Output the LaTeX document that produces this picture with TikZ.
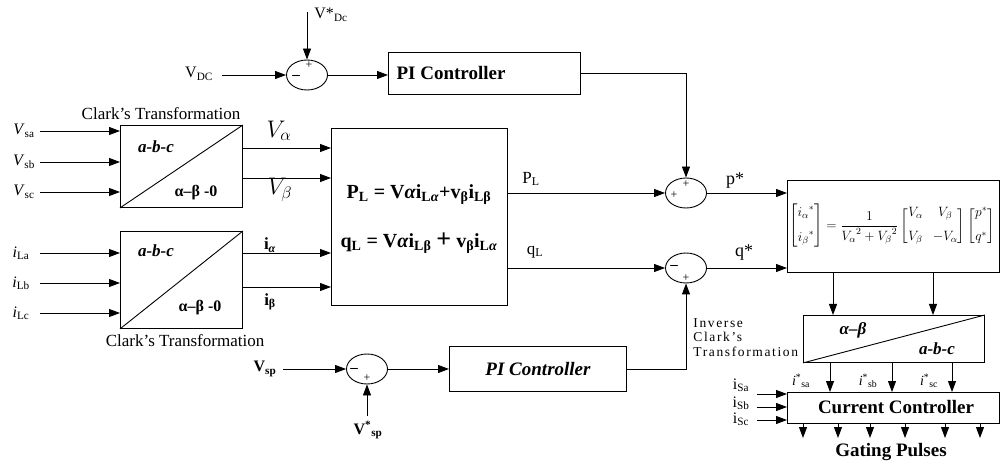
\RequirePackage{fix-cm}
\documentclass[tikz,border=0pt]{standalone}
\usepackage{fontspec}
\setmainfont{Liberation Serif}
\usepackage{amsmath}
\usetikzlibrary{arrows.meta,shapes.geometric}
\newcommand\fsz[1]{\fontsize{#1}{#1}\selectfont}
\begin{document}
\begin{tikzpicture}[x=1pt,y=-1pt,
  line width=0.9pt,
  box/.style={draw,line width=0.9pt,inner sep=0pt,anchor=north west},
  sumj/.style={draw,ellipse,line width=0.9pt,minimum width=41pt,minimum height=30pt,inner sep=0pt},
  arr/.style={line width=0.9pt,-{Triangle[length=11pt,width=8pt]}},
  lab/.style={inner sep=0pt,font=\fsz{16}},
  sgn/.style={inner sep=0pt,font=\fsz{12}},
  big/.style={inner sep=0pt,font=\fsz{19}\bfseries},
]
\useasboundingbox (0,0) rectangle (1001,462);

% ---------- boxes ----------
\node[box,minimum width=122pt,minimum height=82pt] (c1) at (120,125) {};
\node[box,minimum width=122pt,minimum height=97pt] (c2) at (120,231) {};
\node[box,minimum width=176pt,minimum height=177pt] (bigb) at (331,128) {};
\node[box,minimum width=192pt,minimum height=42pt] (pi1) at (388,52) {};
\node[box,minimum width=177pt,minimum height=45pt] (pi2) at (449,346) {};
\node[box,minimum width=212pt,minimum height=92pt] (mat) at (787,180) {};
\node[box,minimum width=181pt,minimum height=47pt] (inv) at (803,315) {};
\node[box,minimum width=212pt,minimum height=31pt] (cc) at (787,392) {};
\draw (c1.south west) -- (c1.north east);
\draw (c2.south west) -- (c2.north east);
\draw (inv.south west) -- (inv.north east);

% ---------- box texts ----------
\node[big] (pi1t) at (451,73) {PI Controller};
\node[big,font=\fsz{19}\bfseries\itshape] (pi2t) at (538,369) {PI Controller};
\node[big] (cct) at (896,407) {Current Controller};
\node[big] (gp) at (891,452) {Gating Pulses};
\node[inner sep=0pt,font=\fsz{17}\bfseries\itshape] (c1a) at (156,147) {a-b-c};
\node[inner sep=0pt,font=\fsz{16}\bfseries] (c1b) at (196,193) {α–β -0};
\node[inner sep=0pt,font=\fsz{17}\bfseries\itshape] (c2a) at (156,251) {a-b-c};
\node[inner sep=0pt,font=\fsz{16}\bfseries] (c2b) at (200,308) {α–β -0};
\node[inner sep=0pt,font=\fsz{17}\bfseries\itshape] (iva) at (853,330) {α–β};
\node[inner sep=0pt,font=\fsz{17}\bfseries\itshape] (ivb) at (937,349) {a-b-c};
\node[inner sep=0pt,font=\fsz{17}] (ct1) at (161,114) {Clark's Transformation};
\node[inner sep=0pt,font=\fsz{17}] (ct2) at (185,341) {Clark's Transformation};
\node[inner sep=0pt,font=\fsz{20}\bfseries] (peq) at (419,195)
  {P\textsubscript{L} = V\textit{α}i\textsubscript{L\textit{α}}+v\textsubscript{β}i\textsubscript{Lβ}};
\node[inner sep=0pt,font=\fsz{20}\bfseries] (qeq) at (419,243)
  {q\textsubscript{L} = V\textit{α}i\textsubscript{Lβ} {\fsz{26}+} v\textsubscript{β}i\textsubscript{L\textit{α}}};
\node[inner sep=0pt,font=\fsz{13.5}] (meq) at (892,226)
  {$\begin{bmatrix} {i_\alpha}^{*}\\[11pt] {i_\beta}^{*}\end{bmatrix}
   = \dfrac{1}{{V_\alpha}^{2}+{V_\beta}^{2}}
   \begin{bmatrix}V_\alpha & V_\beta\\[11pt] V_\beta & -V_\alpha\end{bmatrix}
   \begin{bmatrix}p^{*}\\[11pt] q^{*}\end{bmatrix}$};
\node[inner sep=0pt,anchor=north west,align=left,font=\fsz{13.5}\addfontfeature{LetterSpace=12}] (ict) at (693,318)
  {Inverse\\[1pt]Clark's\\[1pt]Transformation};

% ---------- summing junctions ----------
\node[sumj] (s1) at (307,75) {};
\node[sumj] (s2) at (686,193) {};
\node[sumj] (s3) at (686,268) {};
\node[sumj] (s4) at (367,369) {};
\node[sgn,font=\fsz{15}\bfseries] at (296,77) {–};
\node[sgn] at (309,65) {+};
\node[sgn] at (674,195) {+};
\node[sgn] at (686,184) {+};
\node[sgn,font=\fsz{15}\bfseries] at (674,267) {–};
\node[sgn] at (686,278) {+};
\node[sgn,font=\fsz{15}\bfseries] at (354,370) {–};
\node[sgn] at (367,378) {+};

% ---------- DC loop ----------
\node[lab,font=\fsz{16}] (vdcs) at (331,15) {V*\textsubscript{Dc}};
\coordinate (vdcs0) at (307,12);
\draw[arr] (vdcs0) -- (s1.north);
\node[lab,font=\fsz{16}] (vdc) at (199,74) {V\textsubscript{DC}};
\coordinate (vdc0) at (222,75);
\draw[arr] (vdc0) -- (s1.west);
\draw[arr] (s1.east) -- (s1.east -| pi1.west);
\draw[arr] (pi1.east) -| (s2.north);

% ---------- Clark 1 ----------
\node[lab] (vsa) at (24,131) {\textit{V}\textsubscript{sa}};
\node[lab] (vsb) at (24,162) {\textit{V}\textsubscript{sb}};
\node[lab] (vsc) at (24,192) {\textit{V}\textsubscript{sc}};
\coordinate (a1) at (40,131);
\coordinate (a2) at (40,162);
\coordinate (a3) at (40,192);
\draw[arr] (a1) -- (a1 -| c1.west);
\draw[arr] (a2) -- (a2 -| c1.west);
\draw[arr] (a3) -- (a3 -| c1.west);
\coordinate (o1) at (242,148);
\coordinate (o2) at (242,178);
\draw[arr] (o1) -- (o1 -| bigb.west);
\draw[arr] (o2) -- (o2 -| bigb.west);
\node[inner sep=0pt,font=\fsz{24}] (valab) at (279,131) {$V_\alpha$};
\node[inner sep=0pt,font=\fsz{24}] (vblab) at (280,190) {$V_\beta$};

% ---------- Clark 2 ----------
\node[lab] (ila) at (21,253) {\textit{i}\textsubscript{La}};
\node[lab] (ilb) at (21,283) {\textit{i}\textsubscript{Lb}};
\node[lab] (ilc) at (21,313) {\textit{i}\textsubscript{Lc}};
\coordinate (b1) at (40,253);
\coordinate (b2) at (40,283);
\coordinate (b3) at (40,313);
\draw[arr] (b1) -- (b1 -| c2.west);
\draw[arr] (b2) -- (b2 -| c2.west);
\draw[arr] (b3) -- (b3 -| c2.west);
\coordinate (p1) at (242,253);
\coordinate (p2) at (242,287);
\draw[arr] (p1) -- (p1 -| bigb.west);
\draw[arr] (p2) -- (p2 -| bigb.west);
\node[inner sep=0pt,font=\fsz{17}\bfseries] (ialab) at (270,245) {i\textsubscript{\textit{α}}};
\node[inner sep=0pt,font=\fsz{17}\bfseries] (iblab) at (270,302) {i\textsubscript{β}};

% ---------- power to references ----------
\draw[arr] (s2.west -| bigb.east) -- (s2.west);
\draw[arr] (s3.west -| bigb.east) -- (s3.west);
\node[inner sep=0pt,font=\fsz{17}] (pl) at (531,179) {P\textsubscript{L}};
\node[inner sep=0pt,font=\fsz{17}] (ql) at (535,252) {q\textsubscript{L}};
\draw[arr] (s2.east) -- (s2.east -| mat.west);
\draw[arr] (s3.east) -- (s3.east -| mat.west);
\node[inner sep=0pt,font=\fsz{18}] (ps) at (735,181) {p*};
\node[inner sep=0pt,font=\fsz{18}] (qs) at (744,253) {q*};

% ---------- Vsp loop ----------
\node[lab,font=\fsz{16}\bfseries] (vsp) at (265,369) {V\textsubscript{sp}};
\coordinate (vsp0) at (283,369);
\draw[arr] (vsp0) -- (s4.west);
\draw[arr] (s4.east) -- (s4.east -| pi2.west);
\node[lab,font=\fsz{16}\bfseries] (vsps) at (368,430) {V\textsuperscript{*}\textsubscript{sp}};
\coordinate (vsps0) at (367,416);
\draw[arr] (vsps0) -- (s4.south);
\draw[arr] (pi2.east) -| (s3.south);

% ---------- matrix to inverse Clark ----------
\coordinate (m1) at (833,300);
\coordinate (m2) at (933,300);
\draw[arr] (m1 |- mat.south) -- (m1 |- inv.north);
\draw[arr] (m2 |- mat.south) -- (m2 |- inv.north);
\coordinate (n1) at (830,380);
\coordinate (n2) at (892,380);
\coordinate (n3) at (952,380);
\draw[arr] (n1 |- inv.south) -- (n1 |- cc.north);
\draw[arr] (n2 |- inv.south) -- (n2 |- cc.north);
\draw[arr] (n3 |- inv.south) -- (n3 |- cc.north);
\node[inner sep=0pt,font=\fsz{14}] (isa) at (801,381) {\textit{i}\textsuperscript{*}\textsubscript{sa}};
\node[inner sep=0pt,font=\fsz{14}] (isb) at (868,381) {\textit{i}\textsuperscript{*}\textsubscript{sb}};
\node[inner sep=0pt,font=\fsz{14}] (isc) at (929,381) {\textit{i}\textsuperscript{*}\textsubscript{sc}};

% ---------- current controller ----------
\node[lab,font=\fsz{16}] (isal) at (741,385) {i\textsubscript{Sa}};
\node[lab,font=\fsz{16}] (isbl) at (741,403) {i\textsubscript{Sb}};
\node[lab,font=\fsz{16}] (iscl) at (741,419) {i\textsubscript{Sc}};
\coordinate (q1) at (757,394);
\coordinate (q2) at (757,407);
\coordinate (q3) at (757,420);
\draw[arr] (q1) -- (q1 -| cc.west);
\draw[arr] (q2) -- (q2 -| cc.west);
\draw[arr] (q3) -- (q3 -| cc.west);
\foreach \x [count=\i] in {803,838,870,905,945,980}{
  \coordinate (g\i) at (\x,438);
  \draw[arr] (g\i |- cc.south) -- (g\i);
}
\end{tikzpicture}
\end{document}
